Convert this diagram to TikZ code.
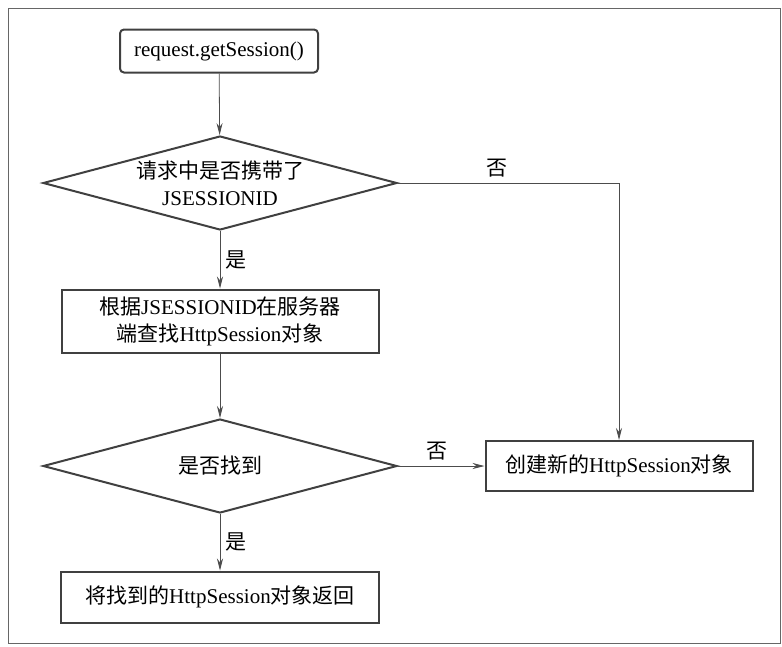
\documentclass[tikz,border=0pt]{standalone}
\usepackage{fontspec}
\setmainfont{Liberation Serif}
\newfontfamily\cjk{Noto Sans CJK SC}
\usetikzlibrary{positioning, shapes.geometric, arrows.meta}

\begin{document}
\begin{tikzpicture}[x=1pt, y=-1pt,
    every node/.style={font=\fontsize{21}{27}\selectfont},
    startNode/.style={rectangle, draw=black!75, line width=2pt, rounded corners=4pt, minimum width=198pt, minimum height=43pt, align=center},
    decision/.style={diamond, draw=black!75, line width=2pt, aspect=3.77, minimum width=354pt, minimum height=94pt, inner sep=0pt, align=center},
    process/.style={rectangle, draw=black!75, line width=2pt, align=center},
    flow/.style={draw=black!70, line width=0.8pt, -{Stealth[length=12pt, width=6pt]}},
    answer/.style={font=\cjk\fontsize{21}{27}\selectfont}]

  \useasboundingbox (0,0) rectangle (782,646);
  \draw[black!60, line width=1pt] (8,8) rectangle (780,643);

  \node[startNode] (start) at (219,51) {request.getSession()};
  \node[decision] (hasId) at (220,183) {{\cjk 请求中是否携带了}\\JSESSIONID};
  \node[process, minimum width=317pt, minimum height=63pt] (lookup) at (220,321) {{\cjk 根据}JSESSIONID{\cjk 在服务器}\\{\cjk 端查找}HttpSession{\cjk 对象}};
  \node[decision] (found) at (220,466) {\cjk 是否找到};
  \node[process, minimum width=267pt, minimum height=50pt] (create) at (619,466) {{\cjk 创建新的}HttpSession{\cjk 对象}};
  \node[process, minimum width=318pt, minimum height=51pt] (giveBack) at (220,597) {{\cjk 将找到的}HttpSession{\cjk 对象返回}};

  \draw[flow] (start) -- (hasId);
  \draw[flow] (hasId) -- node[answer, right=2pt] {是} (lookup);
  \draw[flow] (hasId.east) -- node[answer, above=2pt, pos=0.45] {否} (hasId.east -| create) -- (create.north);
  \draw[flow] (lookup) -- (found);
  \draw[flow] (found.east) -- node[answer, above=2pt, pos=0.45] {否} (create.west);
  \draw[flow] (found) -- node[answer, right=2pt] {是} (giveBack);
\end{tikzpicture}
\end{document}
